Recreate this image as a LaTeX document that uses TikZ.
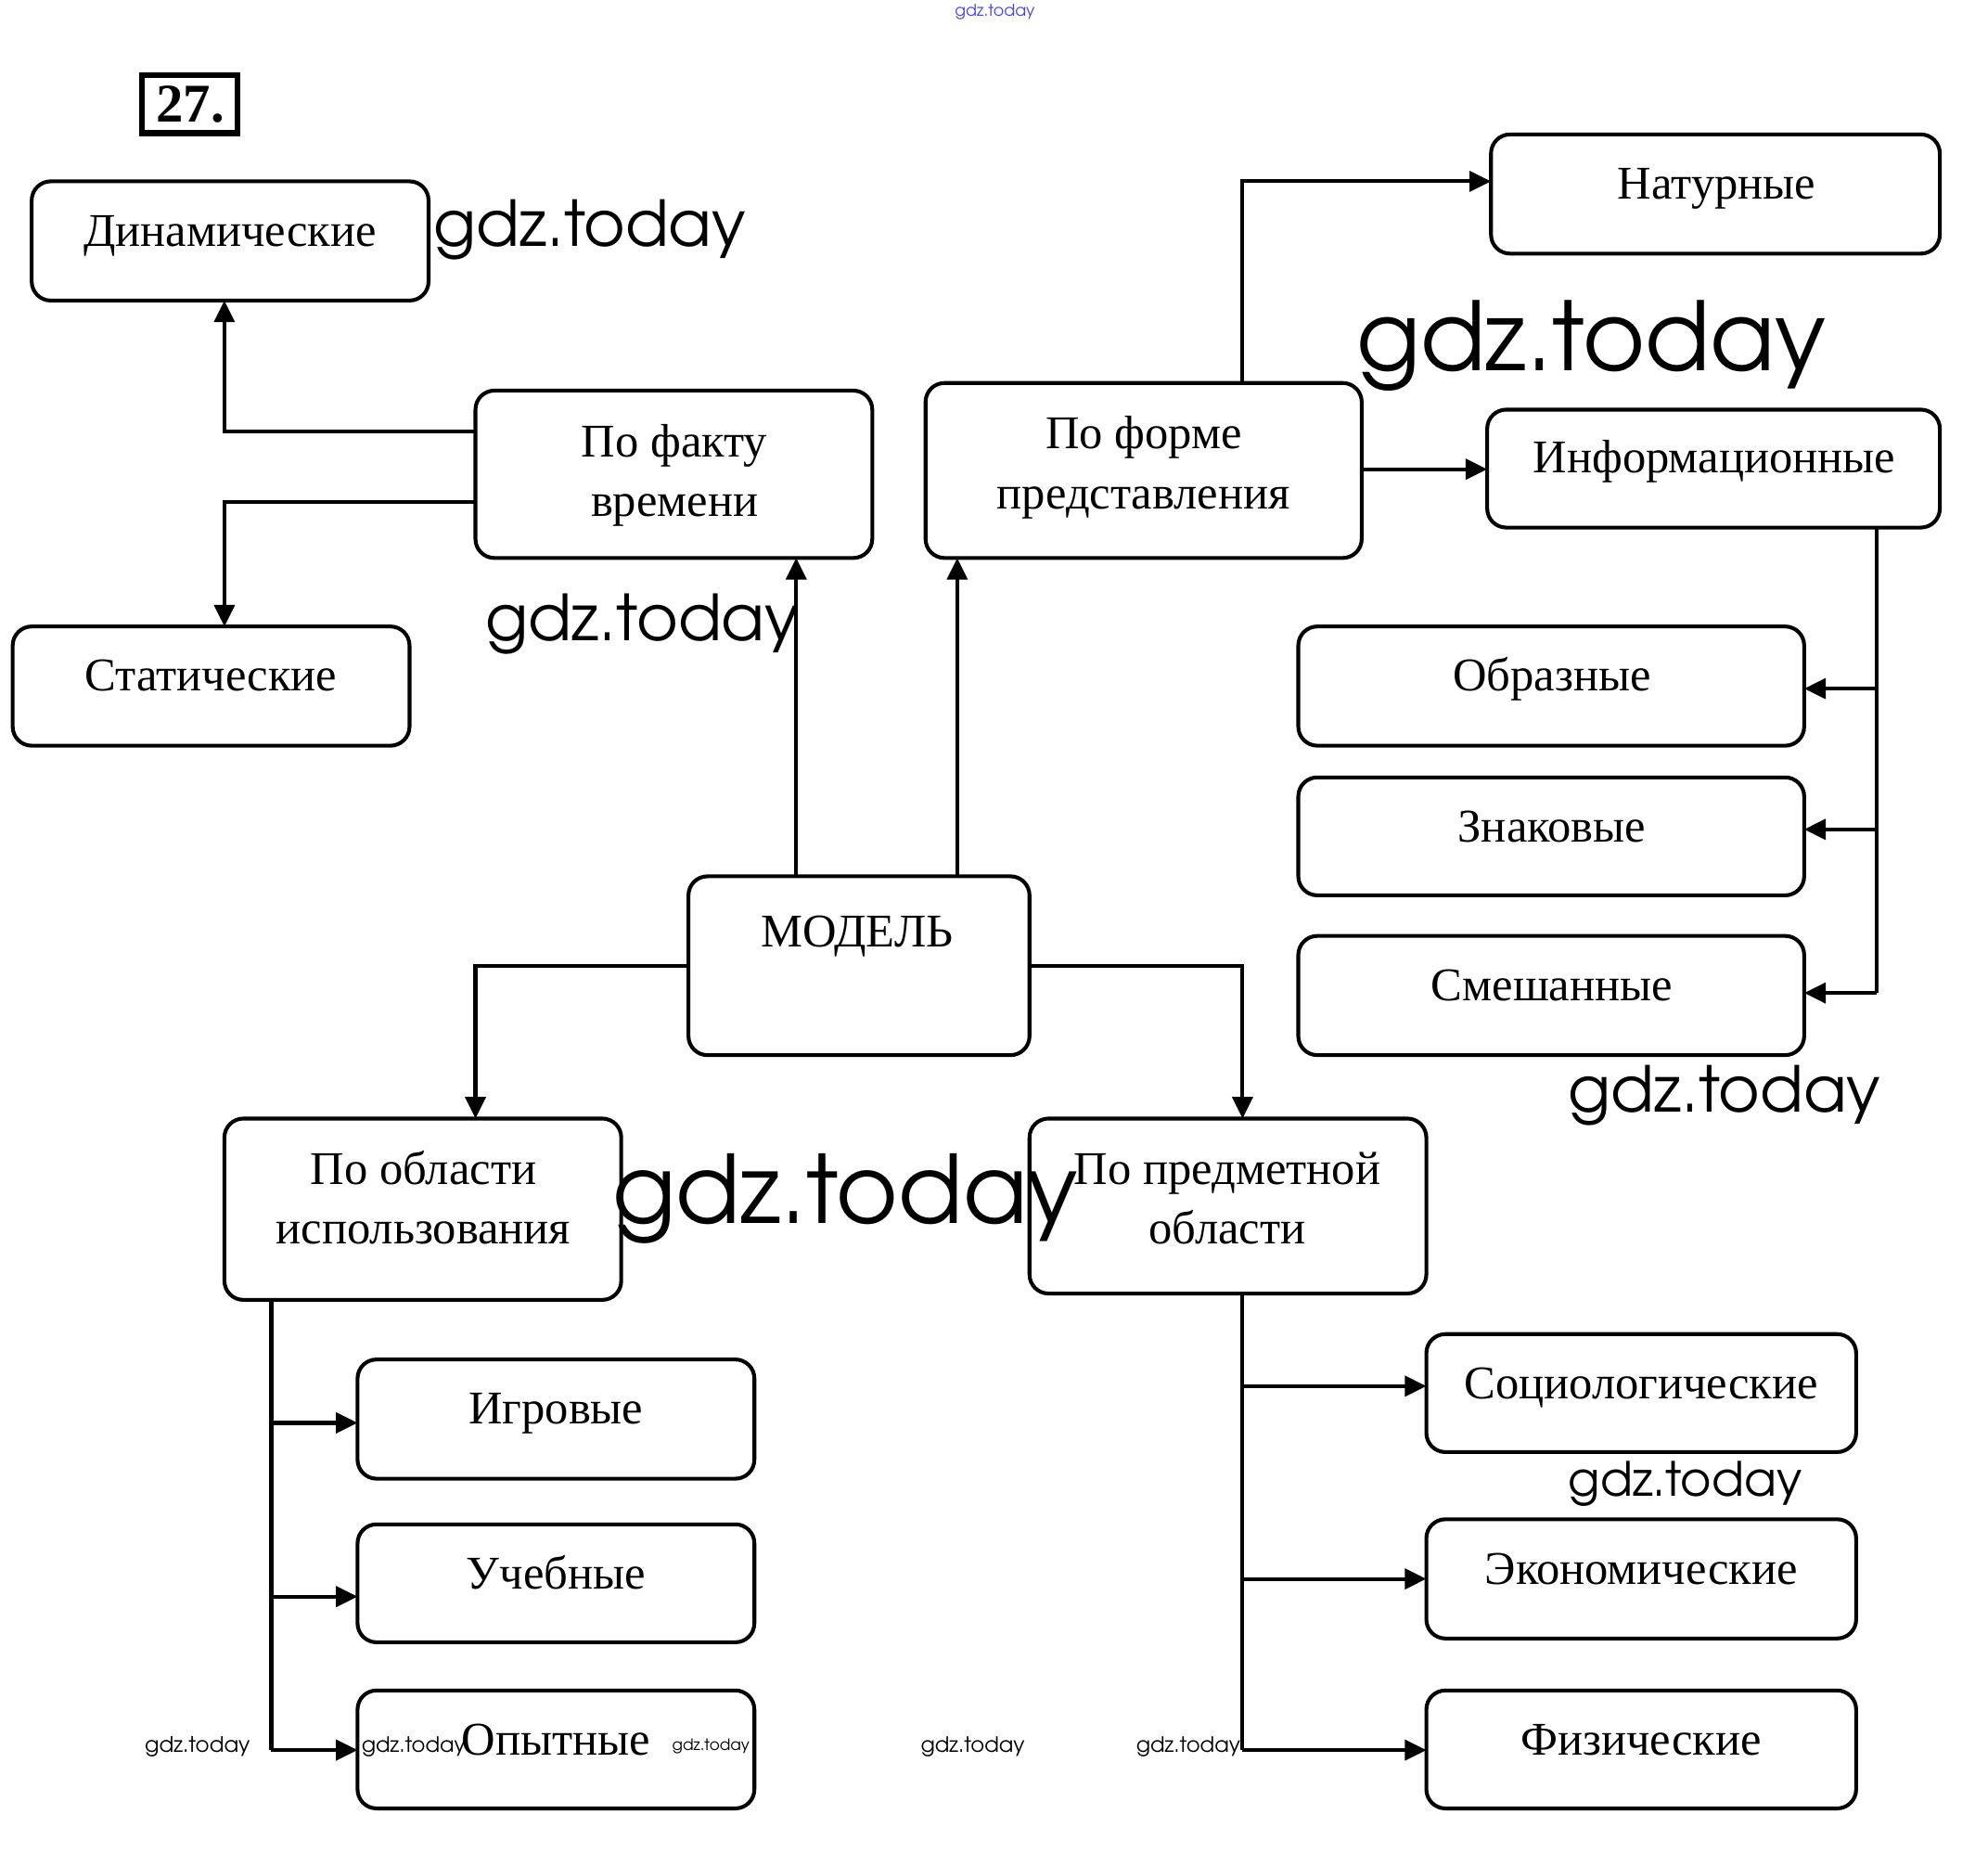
\documentclass[tikz,border=0pt]{standalone}
\usepackage{fontspec}
\setmainfont{Liberation Serif}
\newfontfamily\wmfont{TeX Gyre Adventor}
\usetikzlibrary{arrows.meta}
\definecolor{wmblue}{RGB}{70,70,225}
\tikzset{
  box/.style={draw, line width=3pt, rounded corners=15pt, outer sep=0pt, inner sep=0pt},
  lbl/.style={font=\fontsize{37}{47}\selectfont, align=center, anchor=base, inner sep=0pt},
  arr/.style={line width=3pt, -{Triangle[length=17pt,width=16pt]}},
  ln/.style={line width=3pt},
  wm/.style={font=\wmfont, anchor=base west, inner sep=0pt, text=black},
}
\newcommand\wmark[4][black]{\node[wm, text=#1] at (#2,#3) {\resizebox{#4pt}{!}{gdz.today}};}
\begin{document}
\begin{tikzpicture}[x=1pt,y=-1pt]
\useasboundingbox (0,0) rectangle (1568,1461);
\fill[white] (0,0) rectangle (1568,1461);

% title number
\node[draw, line width=4.4pt, minimum width=75.5pt, minimum height=45.6pt, inner sep=0pt, outer sep=0pt] (num) at (149.75,82.2) {};
\node[font=\bfseries\fontsize{43}{50}\selectfont, anchor=base, inner sep=0pt] (numt) at (150,96.5) {27.};

% boxes
\node[box, minimum width=313pt, minimum height=94pt]  (din)   at (181.5,190) {};
\node[box, minimum width=313pt, minimum height=132pt] (fakt)  at (531.5,374) {};
\node[box, minimum width=313pt, minimum height=94pt]  (stat)  at (166.5,541) {};
\node[box, minimum width=344pt, minimum height=138pt] (forma) at (902,371) {};
\node[box, minimum width=354pt, minimum height=94pt]  (nat)   at (1353,153) {};
\node[box, minimum width=357pt, minimum height=93pt]  (info)  at (1351.5,369.5) {};
\node[box, minimum width=399pt, minimum height=94pt]  (obr)   at (1223.5,541) {};
\node[box, minimum width=399pt, minimum height=93pt]  (zn)    at (1223.5,659.5) {};
\node[box, minimum width=399pt, minimum height=94pt]  (sm)    at (1223.5,785) {};
\node[box, minimum width=269pt, minimum height=141pt] (model) at (677.5,761.5) {};
\node[box, minimum width=313pt, minimum height=143pt] (obl)   at (333.5,953.5) {};
\node[box, minimum width=313pt, minimum height=138pt] (pred)  at (968.5,951) {};
\node[box, minimum width=313pt, minimum height=94pt]  (igr)   at (438.5,1119) {};
\node[box, minimum width=313pt, minimum height=93pt]  (ucheb) at (438.5,1248.5) {};
\node[box, minimum width=313pt, minimum height=93pt]  (opyt)  at (438.5,1379.5) {};
\node[box, minimum width=339pt, minimum height=93pt]  (soc)   at (1294.5,1098.5) {};
\node[box, minimum width=339pt, minimum height=94pt]  (econ)  at (1294.5,1245) {};
\node[box, minimum width=339pt, minimum height=93pt]  (fiz)   at (1294.5,1379.5) {};

% labels (multi-line: anchor base = last line baseline)
\node[lbl] (tdin)   at (181.5,194)  {Динамические};
\node[lbl] (tfakt)  at (532,407)    {По факту\\времени};
\node[lbl] (tstat)  at (166.5,545)  {Статические};
\node[lbl] (tforma) at (902,401)    {По форме\\представления};
\node[lbl] (tnat)   at (1354,157)   {Натурные};
\node[lbl] (tinfo)  at (1352,373)   {Информационные};
\node[lbl] (tobr)   at (1224,545)   {Образные};
\node[lbl] (tzn)    at (1224,664)   {Знаковые};
\node[lbl] (tsm)    at (1224,789)   {Смешанные};
\node[lbl] (tmodel) at (676,747)    {МОДЕЛЬ};
\node[lbl] (tobl)   at (334,981)    {По области\\использования};
\node[lbl] (tpred)  at (968,981)    {По предметной\\области};
\node[lbl] (tigr)   at (438.5,1123) {Игровые};
\node[lbl] (tucheb) at (438.5,1253) {Учебные};
\node[lbl] (topyt)  at (438.5,1384) {Опытные};
\node[lbl] (tsoc)   at (1294.5,1103){Социологические};
\node[lbl] (tecon)  at (1294.5,1249){Экономические};
\node[lbl] (tfiz)   at (1294.5,1384){Физические};

% connectors
\draw[arr] (fakt.west |- 0,340) -| ([xshift=-4.5pt]din.south);
\draw[arr] (fakt.west |- 0,396) -| ([xshift=10.5pt]stat.north);
\draw[arr] (model.north -| 628,0) -- (628,0 |- fakt.south);
\draw[arr] (model.north -| 755,0) -- (755,0 |- forma.south);
\draw[arr] (forma.north -| 980,0) |- ([yshift=10pt]nat.west);
\draw[arr] (forma.east |- 0,370) -- (info.west |- 0,370);
\draw[ln] (info.south -| 1480,0) -- (1480,783);
\draw[arr] (1480,783) -- (sm.east |- 0,783);
\draw[arr] (1480,543) -- (obr.east |- 0,543);
\draw[arr] (1480,654) -- (zn.east |- 0,654);
\draw[arr] (model.west |- 0,762) -| ([xshift=41.5pt]obl.north);
\draw[arr] (model.east |- 0,762) -| ([xshift=11.5pt]pred.north);
\draw[ln] (obl.south -| 214,0) -- (214,1380);
\draw[arr] (214,1380) -- (opyt.west |- 0,1380);
\draw[arr] (214,1122) -- (igr.west |- 0,1122);
\draw[arr] (214,1259) -- (ucheb.west |- 0,1259);
\draw[ln] (pred.south -| 980,0) -- (980,1380);
\draw[arr] (980,1380) -- (fiz.west |- 0,1380);
\draw[arr] (980,1093) -- (soc.west |- 0,1093);
\draw[arr] (980,1245) -- (econ.west |- 0,1245);

% watermarks
\wmark{342}{194}{246}
\wmark{1070}{292}{370}
\wmark{383}{505}{247}
\wmark{483}{965}{367}
\wmark{1237}{877}{246}
\wmark{1237}{1180}{184}
\wmark{114}{1382}{83}
\wmark{285}{1382}{82}
\wmark{530}{1380}{61}
\wmark{726}{1382}{82}
\wmark{896}{1382}{82}
\wmark[wmblue]{753}{13}{63}
\end{tikzpicture}
\end{document}
